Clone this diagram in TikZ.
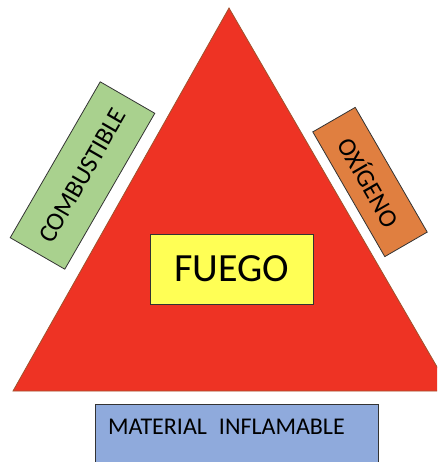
\documentclass[tikz,border=0pt]{standalone}
\usepackage{fontspec}
\setmainfont{Carlito}
\usepackage{xcolor}
\usetikzlibrary{positioning}

\definecolor{fuegored}{HTML}{EE3324}
\definecolor{fuegoedge}{HTML}{A0522D}
\definecolor{combgreen}{HTML}{A9D18E}
\definecolor{oxiorange}{HTML}{E07F40}
\definecolor{matblue}{HTML}{8FAADC}
\definecolor{fuegoyellow}{HTML}{FFFF55}

\tikzset{
  sidebox/.style={draw=black!80, line width=0.8pt, inner sep=0pt,
    font=\fontsize{25.6}{30}\selectfont},
}

\begin{document}
\begin{tikzpicture}[x=1pt, y=-1pt]
    % Frame of the picture
    \useasboundingbox (0,0) rectangle (437,462);
    \clip (0,0) rectangle (437,462);

    % Fire triangle
    \coordinate (apex) at (229,8);
    \coordinate (baseL) at (13,391);
    \coordinate (baseR) at (451,391);
    \filldraw[fill=fuegored, draw=fuegoedge, line width=0.8pt] (apex) -- (baseL) -- (baseR) -- cycle;

    % Centre label
    \node[sidebox, fill=fuegoyellow, minimum width=163pt, minimum height=70pt,
          font=\fontsize{40}{46}\selectfont] (fuego) at (231.5,269) {FUEGO};

    % Side boxes
    \node[sidebox, fill=combgreen, rotate=60, minimum width=180pt, minimum height=63pt]
        (combustible) at (82.5,175.5) {COMBUSTIBLE};
    \node[sidebox, fill=oxiorange, rotate=-60, minimum width=144pt, minimum height=49pt]
        (oxigeno) at (370,182) {OXÍGENO};

    % Bottom box
    \node[sidebox, fill=matblue, anchor=north, align=left, text width=257pt,
          inner xsep=13pt, inner ysep=15pt, text height=15.5pt, text depth=40pt,
          font=\fontsize{24}{28}\selectfont]
        (material) at (236.5,404) {MATERIAL\hspace{4pt} INFLAMABLE};
\end{tikzpicture}
\end{document}
